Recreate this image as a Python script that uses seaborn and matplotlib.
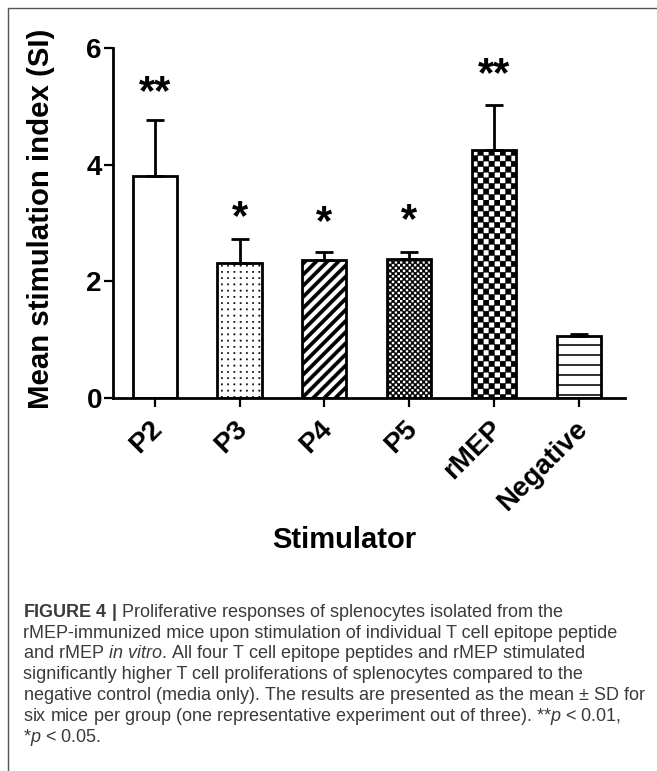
import numpy as np
import pandas as pd
import matplotlib
matplotlib.use("Agg")
import matplotlib.pyplot as plt
import matplotlib.hatch as mhatch
import matplotlib.transforms as mtransforms
from matplotlib.path import Path
from matplotlib.lines import Line2D
import seaborn as sns

# ---------------- data ----------------
categories = ["P2", "P3", "P4", "P5", "rMEP", "Negative"]
mean_si = [3.80, 2.31, 2.37, 2.38, 4.25, 1.06]
sd_si = [0.97, 0.42, 0.14, 0.12, 0.78, 0.04]
significance = ["**", "*", "*", "*", "**", ""]
star_y = [5.34, 3.19, 3.11, 3.14, 5.65, 0.0]
yticks = [0, 2, 4, 6]
x_label = "Stimulator"
y_label = "Mean stimulation index (SI)"
caption_lines = [
    r"$\mathbf{FIGURE\ 4\ |}$ Proliferative responses of splenocytes isolated from the",
    "rMEP-immunized mice upon stimulation of individual T cell epitope peptide",
    r"and rMEP $\mathit{in\ vitro}$. All four T cell epitope peptides and rMEP stimulated",
    "significantly higher T cell proliferations of splenocytes compared to the",
    r"negative control (media only). The results are presented as the mean $\pm$ SD for",
    r"six mice per group (one representative experiment out of three). **$\mathit{p}$ < 0.01,",
    r"*$\mathit{p}$ < 0.05.",
]

# fill patterns of the bars (style)
bar_hatches = ["", ".", "/", "o", "O", "-"]


# ---------------- custom hatch patterns ----------------
def _rect(verts, codes, x0, y0, w, h):
    verts += [(x0, y0), (x0 + w, y0), (x0 + w, y0 + h), (x0, y0 + h), (x0, y0)]
    codes += [Path.MOVETO, Path.LINETO, Path.LINETO, Path.LINETO, Path.CLOSEPOLY]


def _checker(verts, codes, n):
    c = 1.0 / n
    h = c / 2
    for i in range(n):
        for j in range(n):
            _rect(verts, codes, i * c, j * c, h, h)
            _rect(verts, codes, i * c + h, j * c + h, h, h)


def custom_hatch_path(hatchpattern, density=6):
    verts, codes = [], []
    if hatchpattern:
        if "." in hatchpattern:
            n, s = 16, 0.013
            for i in range(n):
                for j in range(n):
                    _rect(verts, codes, (i + 0.5) / n - s / 2, (j + 0.5) / n - s / 2, s, s)
        if "o" in hatchpattern:
            _checker(verts, codes, 18)
        if "O" in hatchpattern:
            _checker(verts, codes, 9)
        if "-" in hatchpattern:
            n, t = 10, 0.013
            for j in range(n):
                _rect(verts, codes, -0.02, (j + 0.5) / n - t / 2, 1.04, t)
        if "/" in hatchpattern:
            n, t = 9, 0.047
            for k in range(-n - 2, n + 3):
                c = k / n
                verts += [(-0.2, -0.2 + c - t / 2), (1.2, 1.2 + c - t / 2),
                          (1.2, 1.2 + c + t / 2), (-0.2, -0.2 + c + t / 2),
                          (-0.2, -0.2 + c - t / 2)]
                codes += [Path.MOVETO, Path.LINETO, Path.LINETO, Path.LINETO, Path.CLOSEPOLY]
    if not verts:
        return Path(np.empty((0, 2)))
    return Path(np.array(verts, float), np.array(codes, Path.code_type))


mhatch.get_path = custom_hatch_path

# ---------------- style ----------------
sns.set_style("ticks")
plt.rcParams["font.family"] = ["Liberation Sans", "DejaVu Sans"]
plt.rcParams["mathtext.fontset"] = "custom"
plt.rcParams["mathtext.rm"] = "Liberation Sans"
plt.rcParams["mathtext.it"] = "Liberation Sans:italic"
plt.rcParams["mathtext.bf"] = "Liberation Sans:bold"
plt.rcParams["hatch.linewidth"] = 0.3
plt.rcParams["hatch.color"] = "black"

W, H = 657, 771
fig = plt.figure(figsize=(W / 100, H / 100), dpi=100)
fig.patch.set_facecolor("white")
ax = fig.add_axes([113 / W, 1 - 398 / H, 512 / W, 350 / H])

df = pd.DataFrame({"Stimulator": categories, "SI": mean_si})
sns.barplot(data=df, x="Stimulator", y="SI", color="white", edgecolor="black",
            linewidth=2.0, width=0.52, saturation=1, errorbar=None, ax=ax)
for patch, hp in zip(ax.patches, bar_hatches):
    if hp:
        patch.set_hatch(hp)

xpos = np.arange(len(categories))
ax.errorbar(xpos, mean_si, yerr=[np.zeros(len(sd_si)), sd_si], fmt="none",
            ecolor="black", elinewidth=2.0, capsize=6.5, capthick=2.0, zorder=3)

fs_star = 30
for xi, s, yy in zip(xpos, significance, star_y):
    if s:
        ax.annotate(s, (xi, yy), xytext=(0, -0.42 * fs_star), textcoords="offset points",
                    ha="center", va="baseline", fontsize=fs_star, fontweight="bold",
                    color="black")

ax.set_ylim(0, 6)
ax.set_xlim(-0.49, 5.54)
ax.set_yticks(yticks)
ax.set_yticklabels([str(v) for v in yticks], fontweight="bold", fontsize=20)
sns.despine(ax=ax)
for sp in ["left", "bottom"]:
    ax.spines[sp].set_linewidth(2.0)
    ax.spines[sp].set_color("black")
ax.tick_params(axis="both", width=1.6, length=6.5, color="black", direction="out",
               labelcolor="black")
ax.tick_params(axis="y", pad=1.5)
ax.tick_params(axis="x", pad=13)
ax.set_xticks(xpos)
ax.set_xticklabels(categories, rotation=45, ha="right", va="center",
                   rotation_mode="anchor", fontweight="bold", fontsize=20)
shift = mtransforms.ScaledTranslation(4 / 100, 0, fig.dpi_scale_trans)
for lab in ax.get_xticklabels():
    lab.set_transform(lab.get_transform() + shift)

ax.set_xlabel(x_label, fontsize=21, fontweight="bold", color="black")
ax.set_ylabel(y_label, fontsize=21.2, fontweight="bold", color="black")
ax.xaxis.set_label_coords((344.7 - 113) / 512, (398 - 548) / 350)
ax.xaxis.label.set_va("baseline")
ax.yaxis.set_label_coords((41 - 113) / 512, (398 - 219) / 350)
ax.yaxis.label.set_va("center")

# frame lines of the figure panel
fig.add_artist(Line2D([8.3 / W, 1.0], [1 - 8.3 / H] * 2, transform=fig.transFigure,
                      color="#555555", lw=1.0))
fig.add_artist(Line2D([8.3 / W] * 2, [0.0, 1 - 8.3 / H], transform=fig.transFigure,
                      color="#555555", lw=1.0))

# caption
for k, line in enumerate(caption_lines):
    yb = 616.7 + 20.8 * k
    fig.text(23 / W, 1 - yb / H, line, ha="left", va="baseline", fontsize=13,
             color="#3a3a3a")

fig.savefig("out.png", dpi=100, facecolor="white")
